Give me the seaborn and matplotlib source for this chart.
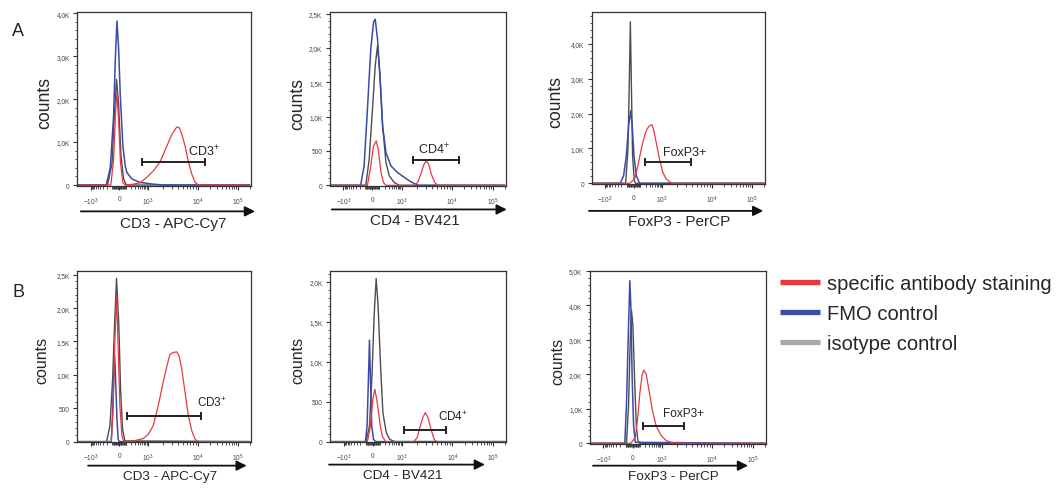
import numpy as np
import matplotlib
matplotlib.use('Agg')
import matplotlib.pyplot as plt
from matplotlib.ticker import FixedLocator, AutoMinorLocator, FuncFormatter
from matplotlib.lines import Line2D
import seaborn as sns

# ---- data (x = fluorescence, y = counts) ----
# A1  CD3
a1_iso_x = [-1900, -190, -105, -70, -37, -9, 23, 60, 101, 200000]
a1_iso_y = [0, 0, 500, 1600, 2460, 1900, 700, 150, 0, 0]
a1_fmo_x = [-1900, -220, -136, -80, -55, -31, -9, 14, 51, 85, 113, 213, 486, 1290, 2050, 200000]
a1_fmo_y = [0, 0, 400, 1600, 2900, 3815, 3200, 2100, 900, 450, 290, 140, 60, 20, 0, 0]
a1_red_x = [-1900, -125, -80, -50, -31, -9, 18, 51, 86, 254, 486, 900, 1290, 1760, 2410, 3030,
            3516, 3800, 4300, 4790, 5570, 6490, 7600, 8830, 10350, 200000]
a1_red_y = [0, 0, 600, 1700, 2150, 1500, 500, 50, 0, 20, 50, 177, 330, 540, 910, 1180,
            1290, 1350, 1330, 1180, 910, 540, 254, 62, 0, 0]

# A2  CD4
a2_iso_x = [-1900, -95, -45, 0, 37, 70, 106, 155, 228, 323, 518, 820, 200000]
a2_iso_y = [0, 0, 380, 1109, 1741, 2033, 1644, 866, 331, 136, 39, 0, 0]
a2_fmo_x = [-1900, -190, -123, -70, -23, 14, 37, 70, 113, 155, 228, 377, 705, 1150, 1555, 2120, 200000]
a2_fmo_y = [0, 0, 282, 1109, 1985, 2373, 2420, 2130, 1498, 866, 477, 282, 185, 112, 49, 0, 0]
a2_red_x = [-1900, -70, -23, 14, 51, 80, 125, 175, 228, 1820, 2120, 2470, 2790, 3100, 3460,
            3900, 4560, 5320, 200000]
a2_red_y = [0, 0, 282, 574, 647, 525, 185, 39, 0, 0, 49, 185, 306, 355, 306, 160, 39, 0, 0]

# A3  FoxP3
a3_iso_x = [-1900, -118, -80, -60, -45, -31, -14, 9, 27, 200000]
a3_iso_y = [0, 0, 983, 2893, 4630, 2893, 792, 76, 0, 0]
a3_fmo_x = [-1900, -228, -155, -106, -70, -40, -19, 5, 37, 86, 200000]
a3_fmo_y = [0, 0, 220, 792, 1651, 2080, 1651, 792, 220, 0, 0]
a3_red_x = [-1900, -55, 14, 60, 113, 175, 228, 301, 377, 443, 570, 775, 1028, 1200, 1400, 1630, 200000]
a3_red_y = [0, 0, 124, 506, 983, 1365, 1556, 1651, 1680, 1556, 1174, 697, 315, 124, 48, 0, 0]

# B1  CD3
b1_iso_x = [-1900, -212, -142, -95, -64, -37, -5, 18, 46, 80, 200000]
b1_iso_y = [0, 0, 235, 935, 1785, 2445, 1735, 785, 185, 10, 0]
b1_fmo_x = [-1900, -118, -95, -80, -64, -50, -31, -14, 0, 200000]
b1_fmo_y = [0, 0, 435, 935, 1285, 935, 335, 35, 0, 0]
b1_red_x = [-1900, -118, -86, -60, -37, -14, 9, 37, 64, 246, 643, 1015, 1276, 1610, 2023, 2410,
            2790, 3240, 3800, 4227, 4780, 5570, 6490, 7600, 8830, 10350, 200000]
b1_red_y = [0, 0, 535, 1535, 2175, 1385, 535, 85, 0, 10, 45, 110, 235, 535, 885, 1135,
            1310, 1335, 1345, 1285, 1085, 735, 385, 160, 35, 0, 0]

# B2  CD4
b2_iso_x = [-1900, -95, -45, -9, 18, 46, 74, 113, 155, 228, 323, 518, 200000]
b2_iso_y = [0, 0, 196, 864, 1574, 2042, 1700, 948, 363, 113, 29, 0, 0]
b2_fmo_x = [-1900, -106, -80, -60, -45, -31, -14, 9, 37, 200000]
b2_fmo_y = [0, 0, 196, 781, 1270, 781, 196, 29, 0, 0]
b2_red_x = [-1900, -75, -31, 0, 27, 55, 101, 142, 213, 1730, 2023, 2280, 2600, 2924, 3300,
            3780, 4360, 4930, 200000]
b2_red_y = [0, 0, 196, 530, 656, 530, 238, 71, 0, 0, 50, 175, 300, 363, 300, 155, 29, 0, 0]

# B3  FoxP3
b3_iso_x = [-1900, -86, -55, -31, -14, 5, 27, 51, 74, 101, 200000]
b3_iso_y = [0, 0, 1090, 3020, 3840, 3410, 1860, 510, 77, 0, 0]
b3_fmo_x = [-1900, -113, -86, -60, -37, -23, -5, 14, 37, 200000]
b3_fmo_y = [0, 0, 1090, 3020, 4710, 3990, 1860, 510, 29, 0]
b3_red_x = [-1900, -23, 37, 70, 106, 142, 175, 228, 301, 418, 600, 965, 1236, 1555, 2120, 200000]
b3_red_y = [0, 0, 174, 705, 1477, 1960, 2120, 2010, 1575, 995, 510, 220, 77, 29, 0, 0]

# gates: [start, end], height, label
gate_x = [[600, 15200], [1683, 14600], [182, 3800], [113, 12300], [1110, 7345], [170, 2790]]
gate_y = [540, 365, 620, 385, 146, 492]
gate_labels = ['CD3$^{+}$', 'CD4$^{+}$', 'FoxP3+', 'CD3$^{+}$', 'CD4$^{+}$', 'FoxP3+']
gate_label_pos = [(6500, 790), (2120, 525), (1030, 888), (9700, 585), (5320, 322), (1060, 880)]

x_labels = ['CD3 - APC-Cy7', 'CD4 - BV421', 'FoxP3 - PerCP'] * 2
y_max = [4020, 2520, 4920, 2560, 2140, 5000]
y_step = [1000, 500, 1000, 500, 500, 1000]

legend_labels = ['specific antibody staining', 'FMO control', 'isotype control']

RED = '#E8393F'
BLUE = '#3B4BA6'
ISO = '#4D4D4D'
ISO_LEG = '#A9A9A9'

# ---- biexponential-like x scale ----
C = 150.0
ANCHOR_V = np.array([-1e5, -1e3, 0, 1e3, 1e4, 1e5, 1e6])
ANCHOR_U = np.array([-1.187, -0.287, 0, 0.287, 0.787, 1.187, 1.587])
ANCHOR_A = np.arcsinh(ANCHOR_V / C)


def biex_fwd(x):
    return np.interp(np.arcsinh(np.asarray(x, dtype=float) / C), ANCHOR_A, ANCHOR_U)


def biex_inv(u):
    return C * np.sinh(np.interp(np.asarray(u, dtype=float), ANCHOR_U, ANCHOR_A))


def count_fmt(v, pos):
    if v == 0:
        return '0'
    if v < 1000:
        return str(int(v))
    return f'{v / 1000:.1f}K'.replace('.', ',')


sns.set_theme(style='ticks')
plt.rcParams['font.family'] = ['Liberation Sans', 'DejaVu Sans']
plt.rcParams['mathtext.default'] = 'regular'
plt.rcParams['axes.unicode_minus'] = False

fig = plt.figure(figsize=(10.62, 4.89), dpi=100)

# axes boxes in pixels: left, top, width, height
boxes = [(77.3, 13.3, 173.4, 173.4), (330, 13.3, 175.7, 173.7), (591.7, 12.7, 173.3, 172.3),
         (77.3, 271.7, 173.4, 171.6), (330.3, 271.7, 175.7, 171.6), (590, 271.7, 176, 173.3)]
arrows = [(0.02, 1.025, -0.148), (0.01, 1.006, -0.135), (-0.016, 0.99, -0.156),
          (0.062, 0.977, -0.136), (-0.007, 0.88, -0.13), (0.017, 0.898, -0.125)]
xlab_pos = [(0.552, -0.217), (0.482, -0.197), (0.504, -0.214),
            (0.535, -0.195), (0.414, -0.19), (0.472, -0.186)]
ylab_x = [-0.186, -0.182, -0.21, -0.206, -0.185, -0.18]

curves = [
    (a1_iso_x, a1_iso_y, a1_fmo_x, a1_fmo_y, a1_red_x, a1_red_y),
    (a2_iso_x, a2_iso_y, a2_fmo_x, a2_fmo_y, a2_red_x, a2_red_y),
    (a3_iso_x, a3_iso_y, a3_fmo_x, a3_fmo_y, a3_red_x, a3_red_y),
    (b1_iso_x, b1_iso_y, b1_fmo_x, b1_fmo_y, b1_red_x, b1_red_y),
    (b2_iso_x, b2_iso_y, b2_fmo_x, b2_fmo_y, b2_red_x, b2_red_y),
    (b3_iso_x, b3_iso_y, b3_fmo_x, b3_fmo_y, b3_red_x, b3_red_y),
]

major_x = [-1e3, 0, 1e3, 1e4, 1e5]
major_lab = [r'$\mathregular{-10^3}$', '0', r'$\mathregular{10^3}$',
             r'$\mathregular{10^4}$', r'$\mathregular{10^5}$']
minor_x = sorted(set([s * k * 10 ** e for s in (-1, 1) for k in range(1, 10) for e in (1, 2)]
                     + [k * 10 ** e for k in range(2, 10) for e in (3, 4)]
                     + [-k * 1000 for k in range(2, 10)] + [2e5]))

W, H = 1062, 489
for i, (l, t, w, h) in enumerate(boxes):
    ax = fig.add_axes([l / W, 1 - (t + h) / H, w / W, h / H])
    ix, iy, fx, fy, rx, ry = curves[i]
    ax.set_xscale('function', functions=(biex_fwd, biex_inv))
    sns.lineplot(x=ix, y=iy, ax=ax, color=ISO, lw=1.0, sort=False, estimator=None)
    sns.lineplot(x=fx, y=fy, ax=ax, color=BLUE, lw=1.1, sort=False, estimator=None)
    sns.lineplot(x=rx, y=ry, ax=ax, color=RED, lw=0.9, sort=False, estimator=None)

    ax.set_xlim(biex_inv(-0.42), biex_inv(1.317))
    ax.set_ylim(-0.004 * y_max[i], y_max[i])

    ax.xaxis.set_major_locator(FixedLocator(major_x))
    ax.xaxis.set_minor_locator(FixedLocator(minor_x))
    ax.set_xticklabels(major_lab)
    ax.yaxis.set_major_locator(FixedLocator(np.arange(0, y_max[i] + 1, y_step[i])))
    ax.yaxis.set_minor_locator(AutoMinorLocator(5))
    ax.yaxis.set_major_formatter(FuncFormatter(count_fmt))
    ax.tick_params(which='major', length=3, width=0.8, labelsize=4.7, pad=2.5,
                   colors='#333333', labelcolor='#444444')
    ax.tick_params(axis='x', which='major', pad=4)
    ax.tick_params(which='minor', length=1.8, width=0.6, colors='#333333')
    for s in ax.spines.values():
        s.set_color('#333333')
        s.set_linewidth(0.9)

    # gate
    ax.plot(gate_x[i], [gate_y[i], gate_y[i]], color='#222222', lw=1.4,
            marker='|', markersize=6, mew=1.4)
    gx, gy = gate_label_pos[i]
    ax.text(gx, gy, gate_labels[i], fontsize=9 if i < 3 else 8.5, va='center', ha='left',
            color='#222222')

    big = i < 3
    ax.set_ylabel('counts', fontsize=12.7 if big else 11.5, va='center')
    ax.yaxis.set_label_coords(ylab_x[i], 0.48)
    ax.set_xlabel(x_labels[i], fontsize=11 if big else 9.7, va='center')
    ax.xaxis.set_label_coords(*xlab_pos[i])

    x0, x1, ya = arrows[i]
    ax.annotate('', xy=(x1, ya), xytext=(x0, ya), xycoords='axes fraction',
                arrowprops=dict(arrowstyle='-|>', color='#111111', lw=1.3,
                                mutation_scale=15, shrinkA=0, shrinkB=0),
                annotation_clip=False)

fig.text(18 / W, 1 - 31 / H, 'A', fontsize=13, ha='center', va='center')
fig.text(18 / W, 1 - 292.5 / H, 'B', fontsize=13, ha='center', va='center')

handles = [Line2D([], [], color=c, lw=3.8, solid_capstyle='butt') for c in (RED, BLUE, ISO_LEG)]
fig.legend(handles, legend_labels, loc='upper left', bbox_to_anchor=(780 / W, 1 - 275 / H),
           frameon=False, fontsize=14.5, handlelength=2.0, handletextpad=0.35,
           labelspacing=0.55, borderpad=0, borderaxespad=0)

fig.savefig('out.png', dpi=100)
